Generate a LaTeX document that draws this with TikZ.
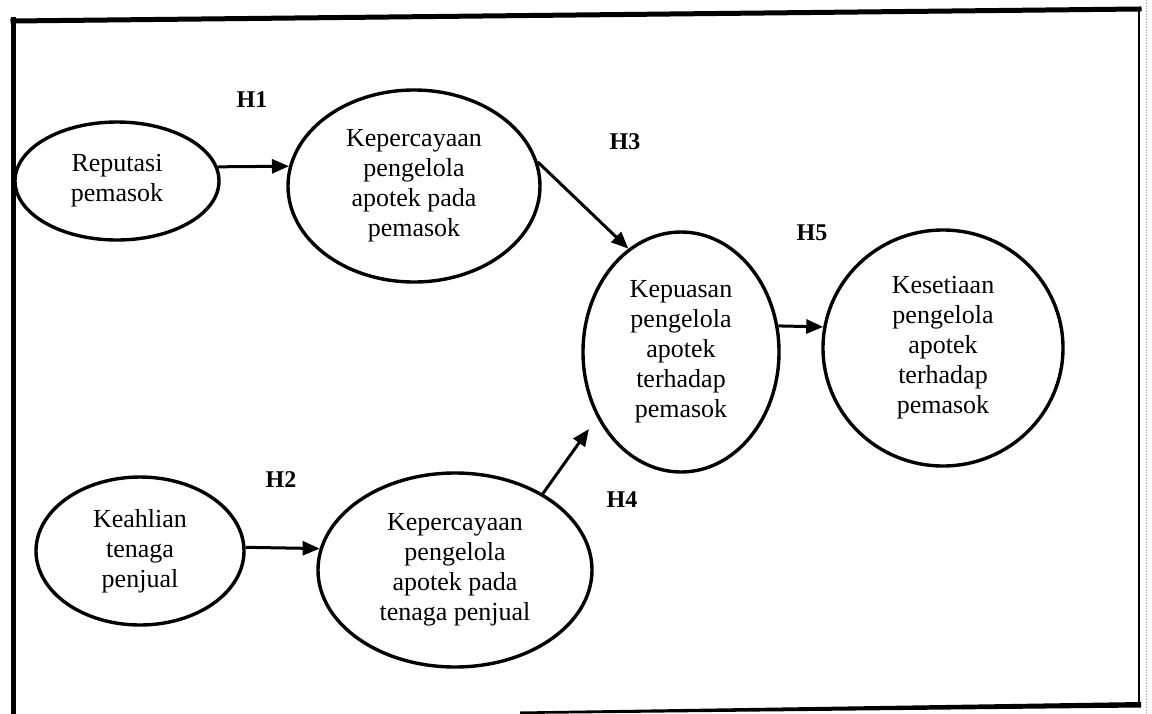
\documentclass[tikz,border=0pt]{standalone}
\usepackage{fontspec}
\setmainfont{Liberation Serif}
\usetikzlibrary{shapes.geometric,arrows.meta}
\begin{document}
\begin{tikzpicture}[x=1pt,y=-1pt,
  var/.style={ellipse,draw,line width=3.4pt,inner sep=0pt,align=center,
    font=\fontsize{26}{30}\selectfont},
  hyp/.style={font=\fontsize{24}{28}\selectfont\bfseries},
  link/.style={line width=3pt,-{Triangle[length=17pt,width=14pt]}},
  frameline/.style={line cap=rect}]
\useasboundingbox (0,0) rectangle (1152,713);
\clip (0,0) rectangle (1152,713);

% outer frame (slightly skewed, as printed)
\coordinate (tl) at (13,21);
\coordinate (tr) at (1139,9);
\draw[frameline,line width=5pt] (13,19) -- (13,713);
\draw[frameline,line width=5pt] (tl) -- (tr);
\draw[line width=2pt] (1139,8) -- (1139,706);
% bottom edge, running off the page towards the left
\fill (1141,702) -- (1141,707.5) -- (520,714) -- (520,711.5) -- cycle;
\draw[gray!60,line width=0.6pt,densely dotted] (1146,0) -- (1146,713);

% constructs
\node[var,minimum width=204pt,minimum height=118pt] (rep) at (117,181) {Reputasi\\pemasok};
\node[var,minimum width=252pt,minimum height=192pt] (kp1) at (414,186)
  {Kepercayaan\\pengelola\\apotek pada\\pemasok};
\node[var,minimum width=196pt,minimum height=240pt] (kps) at (681,352)
  {Kepuasan\\pengelola\\apotek\\terhadap\\pemasok};
\node[var,minimum width=240pt,minimum height=236pt] (kst) at (943,348)
  {Kesetiaan\\pengelola\\apotek\\terhadap\\pemasok};
\node[var,minimum width=208pt,minimum height=148pt] (kah) at (140,551)
  {Keahlian\\tenaga\\penjual};
\node[var,minimum width=274pt,minimum height=194pt] (kp2) at (455,570)
  {Kepercayaan\\pengelola\\apotek pada\\tenaga penjual};

% hypotheses
\node[hyp] (h1) at (252,100) {H1};
\node[hyp] (h2) at (281,480) {H2};
\node[hyp] (h3) at (625,142) {H3};
\node[hyp] (h4) at (622,500) {H4};
\node[hyp] (h5) at (812,233) {H5};

% paths
\draw[link] (rep.8) -- (kp1.171);
\draw[link] (kp1.11) -- (kps.117);
\draw[link] (kah.2) -- (kp2.171);
\draw[link,shorten >=14pt] (kp2.41) -- (kps.218);
\draw[link] (kps.15) -- (kst.170);
\end{tikzpicture}
\end{document}
